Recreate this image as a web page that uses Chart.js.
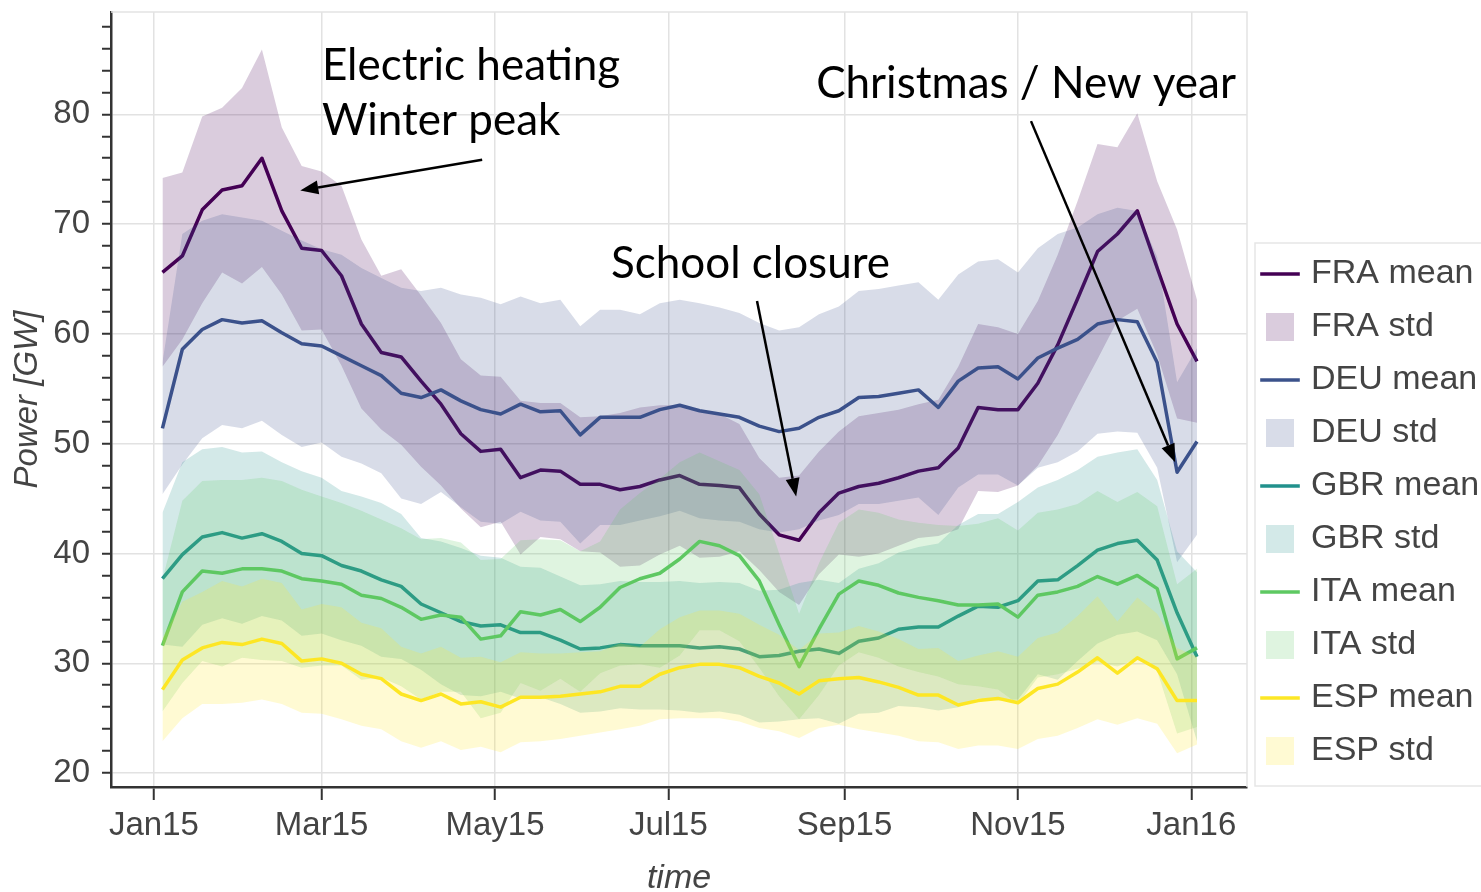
<!DOCTYPE html>
<html>
<head>
<meta charset="utf-8">
<title>Weekly electricity load 2015</title>
<style>
  html, body { margin: 0; padding: 0; background: #ffffff; overflow: hidden; }
  #wrap { width: 1481px; height: 892px; position: relative; }
</style>
<script src="https://cdn.jsdelivr.net/npm/chart.js@4.4.1/dist/chart.umd.min.js"></script>
</head>
<body>
<div id="wrap"><canvas id="chart" width="1481" height="892"></canvas></div>
<script>
// Week start dates (Sundays) covered by the weekly statistics
const weeks = [
  '2015-01-04','2015-01-11','2015-01-18','2015-01-25','2015-02-01','2015-02-08','2015-02-15','2015-02-22',
  '2015-03-01','2015-03-08','2015-03-15','2015-03-22','2015-03-29','2015-04-05','2015-04-12','2015-04-19',
  '2015-04-26','2015-05-03','2015-05-10','2015-05-17','2015-05-24','2015-05-31','2015-06-07','2015-06-14',
  '2015-06-21','2015-06-28','2015-07-05','2015-07-12','2015-07-19','2015-07-26','2015-08-02','2015-08-09',
  '2015-08-16','2015-08-23','2015-08-30','2015-09-06','2015-09-13','2015-09-20','2015-09-27','2015-10-04',
  '2015-10-11','2015-10-18','2015-10-25','2015-11-01','2015-11-08','2015-11-15','2015-11-22','2015-11-29',
  '2015-12-06','2015-12-13','2015-12-20','2015-12-27','2016-01-03'
];

// Weekly mean load and standard deviation, GW
const fraMean = [65.6,67.1,71.3,73.1,73.5,76.0,71.2,67.8,67.6,65.3,60.9,58.3,57.9,55.7,53.6,50.9,49.3,49.5,46.9,47.6,47.5,46.3,46.3,45.8,46.1,46.7,47.1,46.3,46.2,46.0,43.6,41.7,41.2,43.7,45.5,46.1,46.4,46.9,47.5,47.8,49.6,53.3,53.1,53.1,55.5,59.0,63.2,67.5,69.1,71.2,66.0,60.9,57.5];
const fraStd  = [8.6,7.6,8.5,7.5,8.9,9.9,7.6,7.5,7.2,8.2,7.7,7.0,8.0,7.8,7.4,6.8,6.9,6.6,7.0,6.1,6.2,6.1,6.2,7.0,7.2,6.8,6.4,6.7,6.5,5.8,5.1,5.2,5.9,5.6,5.6,6.4,6.4,6.2,6.1,6.2,7.4,7.6,7.5,6.9,7.5,8.2,8.9,9.8,7.9,8.9,7.9,8.6,5.6];

const deuMean = [51.4,58.6,60.4,61.3,61.0,61.2,60.1,59.1,58.9,58.0,57.1,56.2,54.6,54.2,54.9,53.9,53.1,52.7,53.6,52.9,53.0,50.8,52.4,52.4,52.4,53.1,53.5,53.0,52.7,52.4,51.6,51.1,51.4,52.4,53.0,54.2,54.3,54.6,54.9,53.3,55.7,56.9,57.0,55.9,57.8,58.7,59.5,60.9,61.3,61.1,57.4,47.4,50.2];
const deuStd  = [6.0,10.5,9.9,9.6,9.6,9.1,9.3,9.4,8.8,9.2,8.9,8.9,9.6,9.7,9.3,9.7,10.2,10.0,9.8,9.9,10.1,9.9,9.8,9.8,9.4,9.7,9.6,9.8,9.7,9.5,9.4,9.2,9.2,9.4,9.5,9.7,9.8,9.8,9.8,9.8,9.7,9.7,9.8,9.7,10.0,10.4,10.2,10.0,10.2,10.1,9.6,8.2,8.5];

const gbrMean = [37.7,39.9,41.5,41.9,41.4,41.8,41.1,40.0,39.8,38.9,38.4,37.6,37.0,35.4,34.6,33.8,33.4,33.5,32.8,32.8,32.1,31.3,31.4,31.7,31.6,31.6,31.6,31.4,31.5,31.3,30.6,30.7,31.1,31.3,30.9,32.0,32.3,33.1,33.3,33.3,34.3,35.2,35.1,35.7,37.5,37.6,38.9,40.3,40.9,41.2,39.4,34.6,30.6];
const gbrStd  = [6.0,8.4,8.0,7.8,7.8,7.5,7.2,7.5,7.1,6.8,6.8,7.0,6.6,6.0,6.5,6.7,6.4,6.1,6.0,5.9,5.8,5.8,5.8,5.8,5.8,5.8,5.9,5.9,5.9,6.0,6.0,6.0,6.2,6.3,6.4,6.6,6.8,7.0,7.3,7.6,8.3,8.4,8.5,9.0,8.5,9.1,8.7,8.5,8.3,8.3,7.3,5.6,7.7];

const itaMean = [31.6,36.5,38.4,38.2,38.6,38.6,38.4,37.7,37.5,37.2,36.2,35.9,35.1,34.0,34.4,34.2,32.2,32.5,34.7,34.4,34.9,33.8,35.1,36.9,37.7,38.2,39.5,41.1,40.7,39.8,37.5,33.5,29.7,33.1,36.3,37.5,37.1,36.4,36.0,35.7,35.3,35.3,35.4,34.2,36.2,36.5,37.0,37.9,37.2,38.0,36.8,30.4,31.4];
const itaStd  = [6.0,8.3,8.2,8.5,8.1,8.3,8.2,8.1,7.7,7.4,7.7,7.2,7.2,7.3,7.0,6.8,7.2,7.0,6.5,6.9,6.3,6.4,6.0,7.1,7.8,8.6,8.8,8.1,7.7,7.8,7.9,6.5,4.8,6.0,6.5,6.5,6.6,6.7,6.8,6.9,7.2,7.4,7.8,7.9,7.5,7.5,7.5,7.8,7.5,7.6,7.5,6.8,7.2];

const espMean = [27.6,30.3,31.4,31.9,31.7,32.2,31.8,30.2,30.4,30.0,29.0,28.6,27.2,26.6,27.2,26.3,26.5,26.0,26.9,26.9,27.0,27.2,27.4,27.9,27.9,29.0,29.6,29.9,29.9,29.6,28.8,28.2,27.2,28.4,28.6,28.7,28.3,27.8,27.1,27.1,26.2,26.6,26.8,26.4,27.7,28.1,29.2,30.5,29.1,30.5,29.5,26.6,26.6];
const espStd  = [4.7,5.3,5.1,5.6,5.3,5.5,5.5,4.7,5.0,5.1,4.7,4.6,4.3,4.3,4.3,4.2,4.1,4.1,4.1,4.0,3.9,3.8,3.7,3.9,3.6,4.1,4.6,4.9,4.9,4.9,4.7,4.4,4.0,4.3,4.2,4.7,4.6,4.4,4.2,4.3,4.0,4.1,4.3,4.2,4.6,4.7,5.1,5.6,4.7,5.5,5.0,4.8,4.0];

const countries = ['FRA', 'DEU', 'GBR', 'ITA', 'ESP'];
const means = [fraMean, deuMean, gbrMean, itaMean, espMean];
const stds  = [fraStd, deuStd, gbrStd, itaStd, espStd];
const lineColors = ['#440154', '#3b528b', '#21918c', '#5ec962', '#fde725'];
const bandAlpha = 0.2;

// Axis ticks
const xTickDates  = ['2015-01-01', '2015-03-01', '2015-05-01', '2015-07-01', '2015-09-01', '2015-11-01', '2016-01-01'];
const xTickLabels = ['Jan15', 'Mar15', 'May15', 'Jul15', 'Sep15', 'Nov15', 'Jan16'];
const yTickLabels = [20, 30, 40, 50, 60, 70, 80];
const yMinorStep = 2;

// Callouts, positioned in (days since 1 Jan 2015, GW)
const callouts = [
  { lines: ['Electric heating', 'Winter peak'], at: [59.1, 83.1], tail: [115.5, 75.87], tip: [51.5, 73.07] },
  { lines: ['School closure'], at: [160.8, 65.05], tail: [212.2, 62.99], tip: [225.97, 45.2] },
  { lines: ['Christmas / New year'], at: [233.0, 81.45], tail: [308.6, 79.38], tip: [359.3, 48.32] }
];

const t0 = Date.parse('2015-01-01');
const dayOf = s => (Date.parse(s) - t0) / 864e5;
const weekDays = weeks.map(dayOf);
const xTickDays = xTickDates.map(dayOf);

function hexToRgba(hex, a) {
  const n = parseInt(hex.slice(1), 16);
  return `rgba(${(n >> 16) & 255},${(n >> 8) & 255},${n & 255},${a})`;
}

const TEXT = '#444444';
const AXIS_FONT = 'Liberation Sans, Arial, sans-serif';
const MEAN_WIDTH = 3.5;

// Build datasets: per country a mean line, then an upper band edge filled down to a lower band edge.
const datasets = [];
countries.forEach((c, k) => {
  const m = means[k], s = stds[k];
  const base = 10 - 2 * k;
  datasets.push({
    label: c + ' mean',
    data: weekDays.map((d, i) => ({ x: d, y: m[i] })),
    borderColor: lineColors[k],
    borderWidth: MEAN_WIDTH,
    pointRadius: 0,
    fill: false,
    tension: 0,
    borderJoinStyle: 'round',
    order: base
  });
  const lowerIndex = datasets.length + 1;
  datasets.push({
    label: c + ' std',
    data: weekDays.map((d, i) => ({ x: d, y: m[i] + s[i] })),
    borderWidth: 0,
    borderColor: 'rgba(0,0,0,0)',
    pointRadius: 0,
    backgroundColor: hexToRgba(lineColors[k], bandAlpha),
    fill: { target: lowerIndex },
    tension: 0,
    order: base - 1
  });
  datasets.push({
    label: c + ' std lower',
    data: weekDays.map((d, i) => ({ x: d, y: m[i] - s[i] })),
    borderWidth: 0,
    borderColor: 'rgba(0,0,0,0)',
    pointRadius: 0,
    fill: false,
    tension: 0,
    order: base - 1
  });
});

// Light frame on the top and right of the plot area
const frame = {
  id: 'frame',
  beforeDatasetsDraw(chart) {
    const { ctx, chartArea: a } = chart;
    ctx.save();
    ctx.strokeStyle = '#e4e4e4';
    ctx.lineWidth = 1.5;
    ctx.beginPath();
    ctx.moveTo(a.left, a.top);
    ctx.lineTo(a.right, a.top);
    ctx.lineTo(a.right, a.bottom);
    ctx.stroke();
    ctx.restore();
  }
};

// Border around the legend block
const legendFrame = {
  id: 'legendFrame',
  afterDraw(chart) {
    const lg = chart.legend;
    if (!lg || !lg.legendHitBoxes || !lg.legendHitBoxes.length) return;
    const { ctx } = chart;
    const top = lg.legendHitBoxes[0].top - 14;
    ctx.save();
    ctx.strokeStyle = '#e6e6e6';
    ctx.lineWidth = 1.5;
    ctx.strokeRect(lg.left + 8, top, 400, lg.bottom - top - 1);
    ctx.restore();
  }
};

// Text callouts with arrows
const calloutPlugin = {
  id: 'callouts',
  afterDraw(chart) {
    const { ctx } = chart;
    const xs = chart.scales.x, ys = chart.scales.y;
    ctx.save();
    ctx.fillStyle = '#000';
    ctx.strokeStyle = '#000';
    ctx.font = '44px Lato, "Open Sans", sans-serif';
    ctx.textBaseline = 'alphabetic';
    ctx.textAlign = 'left';
    callouts.forEach(c => {
      const tx = xs.getPixelForValue(c.at[0]);
      const ty = ys.getPixelForValue(c.at[1]);
      c.lines.forEach((t, i) => ctx.fillText(t, tx, ty + i * 55));
      const x1 = xs.getPixelForValue(c.tail[0]), y1 = ys.getPixelForValue(c.tail[1]);
      const x2 = xs.getPixelForValue(c.tip[0]),  y2 = ys.getPixelForValue(c.tip[1]);
      const ang = Math.atan2(y2 - y1, x2 - x1);
      const headLen = 18, headHalf = 7;
      const bx = x2 - headLen * Math.cos(ang), by = y2 - headLen * Math.sin(ang);
      ctx.lineWidth = 2.5;
      ctx.beginPath();
      ctx.moveTo(x1, y1);
      ctx.lineTo(bx, by);
      ctx.stroke();
      ctx.beginPath();
      ctx.moveTo(x2, y2);
      ctx.lineTo(bx - headHalf * Math.sin(ang), by + headHalf * Math.cos(ang));
      ctx.lineTo(bx + headHalf * Math.sin(ang), by - headHalf * Math.cos(ang));
      ctx.closePath();
      ctx.fill();
    });
    ctx.restore();
  }
};

new Chart(document.getElementById('chart'), {
  type: 'line',
  data: { datasets },
  plugins: [frame, legendFrame, calloutPlugin],
  options: {
    responsive: false,
    animation: false,
    devicePixelRatio: 1,
    parsing: false,
    layout: { padding: { top: 12, left: 0, right: 0, bottom: 0 } },
    plugins: {
      tooltip: { enabled: false },
      filler: { propagate: false, drawTime: 'beforeDatasetDraw' },
      legend: {
        position: 'right',
        align: 'end',
        fullSize: false,
        maxWidth: 234,
        labels: {
          usePointStyle: true,
          boxWidth: 28,
          boxHeight: 28,
          padding: 19,
          color: TEXT,
          font: { family: AXIS_FONT, size: 34, lineHeight: 1 },
          generateLabels() {
            const items = [];
            countries.forEach((c, k) => {
              items.push({
                text: c + ' mean', pointStyle: 'line', lineWidth: MEAN_WIDTH,
                strokeStyle: lineColors[k], fillStyle: lineColors[k],
                fontColor: TEXT, hidden: false, datasetIndex: 3 * k
              });
              items.push({
                text: c + ' std', pointStyle: 'rect', lineWidth: 0,
                strokeStyle: 'rgba(0,0,0,0)', fillStyle: hexToRgba(lineColors[k], bandAlpha),
                fontColor: TEXT, hidden: false, datasetIndex: 3 * k + 1
              });
            });
            return items;
          }
        }
      }
    },
    scales: {
      x: {
        type: 'linear',
        min: -15.1,
        max: 384.6,
        afterFit(scale) {
          scale.height = 105;
          scale.paddingLeft = 0;
          scale.paddingRight = 0;
        },
        afterBuildTicks(scale) { scale.ticks = xTickDays.map(v => ({ value: v })); },
        border: { display: true, color: '#333333', width: 2.5 },
        grid: { color: '#e2e2e2', lineWidth: 1.5, tickColor: '#333333', tickLength: 13, tickWidth: 2 },
        ticks: {
          autoSkip: false,
          maxRotation: 0,
          padding: 6,
          color: TEXT,
          font: { family: AXIS_FONT, size: 33 },
          callback: (v, i) => xTickLabels[i]
        },
        title: {
          display: true,
          text: 'time',
          color: TEXT,
          padding: { top: 0, bottom: -4 },
          font: { family: AXIS_FONT, size: 34, style: 'italic', lineHeight: 1 }
        }
      },
      y: {
        type: 'linear',
        min: 18.73,
        max: 89.32,
        afterFit(scale) {
          scale.width = 111;
          scale.paddingTop = 0;
          scale.paddingBottom = 0;
        },
        afterBuildTicks(scale) {
          const t = [];
          for (let v = yTickLabels[0]; v <= 88; v += yMinorStep) t.push({ value: v });
          scale.ticks = t;
        },
        border: { display: true, color: '#333333', width: 2.5 },
        grid: {
          color: ctx => (ctx.tick && yTickLabels.includes(ctx.tick.value)) ? '#e2e2e2' : 'rgba(0,0,0,0)',
          lineWidth: 1.5,
          tickColor: '#333333',
          tickLength: 9,
          tickWidth: 2
        },
        ticks: {
          autoSkip: false,
          padding: 12,
          color: TEXT,
          font: { family: AXIS_FONT, size: 33 },
          callback: v => yTickLabels.includes(v) ? String(v) : ''
        },
        title: {
          display: true,
          text: 'Power [GW]',
          color: TEXT,
          padding: { top: 11, bottom: 0 },
          font: { family: AXIS_FONT, size: 33, style: 'italic', lineHeight: 1 }
        }
      }
    }
  }
});
</script>
</body>
</html>
